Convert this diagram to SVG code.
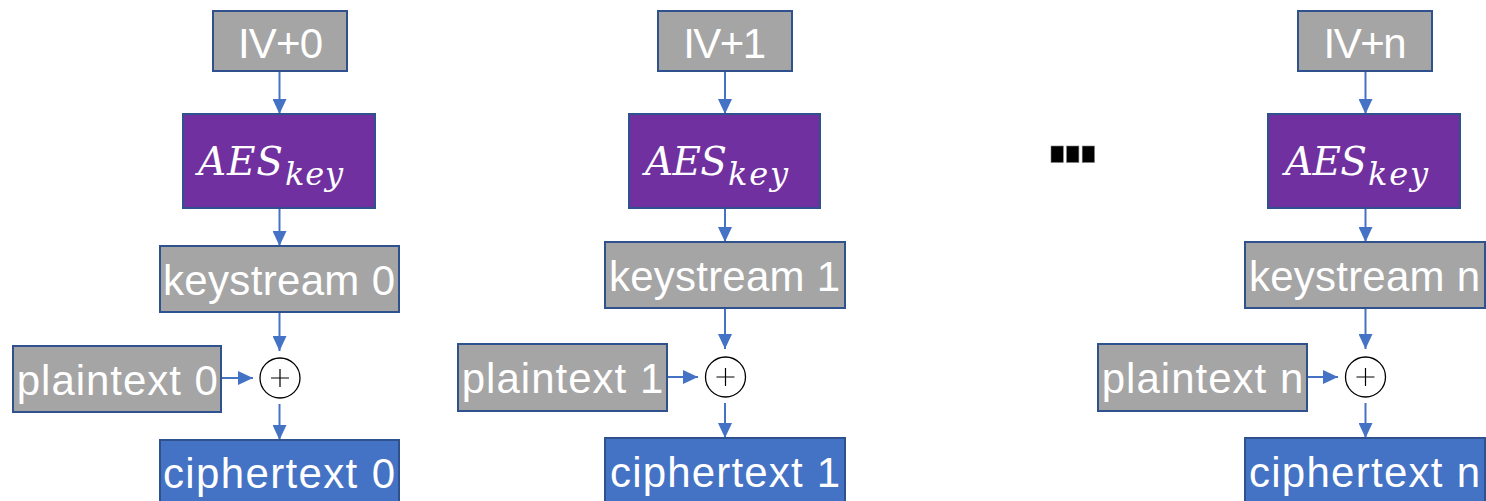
<svg xmlns="http://www.w3.org/2000/svg" width="1486" height="501" viewBox="0 0 1486 501">
  <defs>
    <style>
      .box { stroke: #2F528F; stroke-width: 2; }
      .gray { fill: #A5A5A5; }
      .aes { fill: #7030A0; }
      .out { fill: #4472C4; }
      .lbl { font-family: "Liberation Sans", Arial, sans-serif; font-size: 42px; fill: #FFFFFF; text-anchor: middle; }
      .math { font-family: "DejaVu Serif", "Liberation Serif", serif; font-style: italic; fill: #FFFFFF; }
      .big { font-size: 39px; }
      .sub { font-size: 32px; }
      .wire { stroke: #4472C4; stroke-width: 2; fill: none; marker-end: url(#head); }
      .xor { fill: #FFFFFF; stroke: #000000; stroke-width: 1.3; }
      .plus { stroke: #000000; stroke-width: 1.2; }
    </style>
    <marker id="head" viewBox="0 0 15 14" refX="15" refY="7" markerWidth="15" markerHeight="14" markerUnits="userSpaceOnUse" orient="auto">
      <path d="M0,0 L15,7 L0,14 Z" fill="#4472C4"/>
    </marker>
  </defs>

  <!-- connectors -->
  <g id="connectors">
    <!-- block 0 -->
    <line class="wire" x1="279.5" y1="71" x2="279.5" y2="114"/>
    <line class="wire" x1="279.5" y1="208" x2="279.5" y2="246"/>
    <line class="wire" x1="279.5" y1="312" x2="279.5" y2="351"/>
    <line class="wire" x1="279.5" y1="404" x2="279.5" y2="440"/>
    <line class="wire" x1="221" y1="378" x2="253" y2="378"/>
    <!-- block 1 -->
    <line class="wire" x1="725" y1="71" x2="725" y2="114"/>
    <line class="wire" x1="725" y1="208" x2="725" y2="242"/>
    <line class="wire" x1="725" y1="308" x2="725" y2="349"/>
    <line class="wire" x1="725" y1="403" x2="725" y2="438"/>
    <line class="wire" x1="667" y1="377" x2="698" y2="377"/>
    <!-- block n -->
    <line class="wire" x1="1365.5" y1="71" x2="1365.5" y2="114"/>
    <line class="wire" x1="1365.5" y1="208" x2="1365.5" y2="242"/>
    <line class="wire" x1="1365.5" y1="308" x2="1365.5" y2="349"/>
    <line class="wire" x1="1365.5" y1="403" x2="1365.5" y2="438"/>
    <line class="wire" x1="1307" y1="377" x2="1338" y2="377"/>
  </g>

  <!-- block 0 -->
  <g id="iv0">
    <rect class="box gray" x="213" y="11" width="134" height="60"/>
    <text class="lbl" x="280.5" y="58" textLength="85">IV+0</text>
  </g>
  <g id="aes0">
    <rect class="box aes" x="183" y="114" width="192" height="94"/>
    <text class="math big" x="198" y="175" textLength="85" lengthAdjust="spacing">AES</text>
    <text class="math sub" x="285" y="185" textLength="58" lengthAdjust="spacing">key</text>
  </g>
  <g id="ks0">
    <rect class="box gray" x="160" y="246" width="239" height="66"/>
    <text class="lbl" x="279" y="295" textLength="232">keystream 0</text>
  </g>
  <g id="pt0">
    <rect class="box gray" x="13" y="346" width="208" height="66"/>
    <text class="lbl" x="117.3" y="395" textLength="201">plaintext 0</text>
  </g>
  <g id="xor0">
    <circle class="xor" cx="280" cy="378" r="20"/>
    <path class="plus" d="M271,378 H289 M280,369 V387"/>
  </g>
  <g id="ct0">
    <rect class="box out" x="160" y="440" width="239" height="66"/>
    <text class="lbl" x="279" y="488" textLength="232">ciphertext 0</text>
  </g>

  <!-- block 1 -->
  <g id="iv1">
    <rect class="box gray" x="658" y="11" width="134" height="60"/>
    <text class="lbl" x="724.7" y="58" textLength="83">IV+1</text>
  </g>
  <g id="aes1">
    <rect class="box aes" x="629" y="114" width="191" height="94"/>
    <text class="math big" x="645" y="175" textLength="82" lengthAdjust="spacing">AES</text>
    <text class="math sub" x="728" y="185" textLength="60" lengthAdjust="spacing">key</text>
  </g>
  <g id="ks1">
    <rect class="box gray" x="605" y="242" width="240" height="66"/>
    <text class="lbl" x="724.5" y="291" textLength="231">keystream 1</text>
  </g>
  <g id="pt1">
    <rect class="box gray" x="458" y="344" width="209" height="67"/>
    <text class="lbl" x="562.5" y="393" textLength="201.6">plaintext 1</text>
  </g>
  <g id="xor1">
    <circle class="xor" cx="725.5" cy="377" r="20"/>
    <path class="plus" d="M716.5,377 H734.5 M725.5,368 V386"/>
  </g>
  <g id="ct1">
    <rect class="box out" x="605" y="438" width="240" height="66"/>
    <text class="lbl" x="725" y="487" textLength="230">ciphertext 1</text>
  </g>

  <!-- gap marker between block 1 and block n -->
  <g id="ellipsis" fill="#000000" stroke="#7F7F7F" stroke-width="0.6">
    <rect x="1051" y="146" width="12.3" height="16.5"/>
    <rect x="1066.6" y="146" width="12.3" height="16.5"/>
    <rect x="1082.2" y="146" width="12.3" height="16.5"/>
  </g>

  <!-- block n -->
  <g id="ivn">
    <rect class="box gray" x="1298" y="11" width="134" height="60"/>
    <text class="lbl" x="1365" y="57.5" textLength="83">IV+n</text>
  </g>
  <g id="aesn">
    <rect class="box aes" x="1268" y="114" width="192" height="94"/>
    <text class="math big" x="1285" y="175" textLength="82" lengthAdjust="spacing">AES</text>
    <text class="math sub" x="1368" y="185" textLength="60" lengthAdjust="spacing">key</text>
  </g>
  <g id="ksn">
    <rect class="box gray" x="1245" y="242" width="240" height="66"/>
    <text class="lbl" x="1364.5" y="291" textLength="231">keystream n</text>
  </g>
  <g id="ptn">
    <rect class="box gray" x="1098" y="344" width="209" height="67"/>
    <text class="lbl" x="1202.5" y="393" textLength="201.6">plaintext n</text>
  </g>
  <g id="xorn">
    <circle class="xor" cx="1365.5" cy="377" r="20"/>
    <path class="plus" d="M1356.5,377 H1374.5 M1365.5,368 V386"/>
  </g>
  <g id="ctn">
    <rect class="box out" x="1245" y="438" width="240" height="66"/>
    <text class="lbl" x="1364.5" y="487" textLength="231">ciphertext n</text>
  </g>
</svg>
